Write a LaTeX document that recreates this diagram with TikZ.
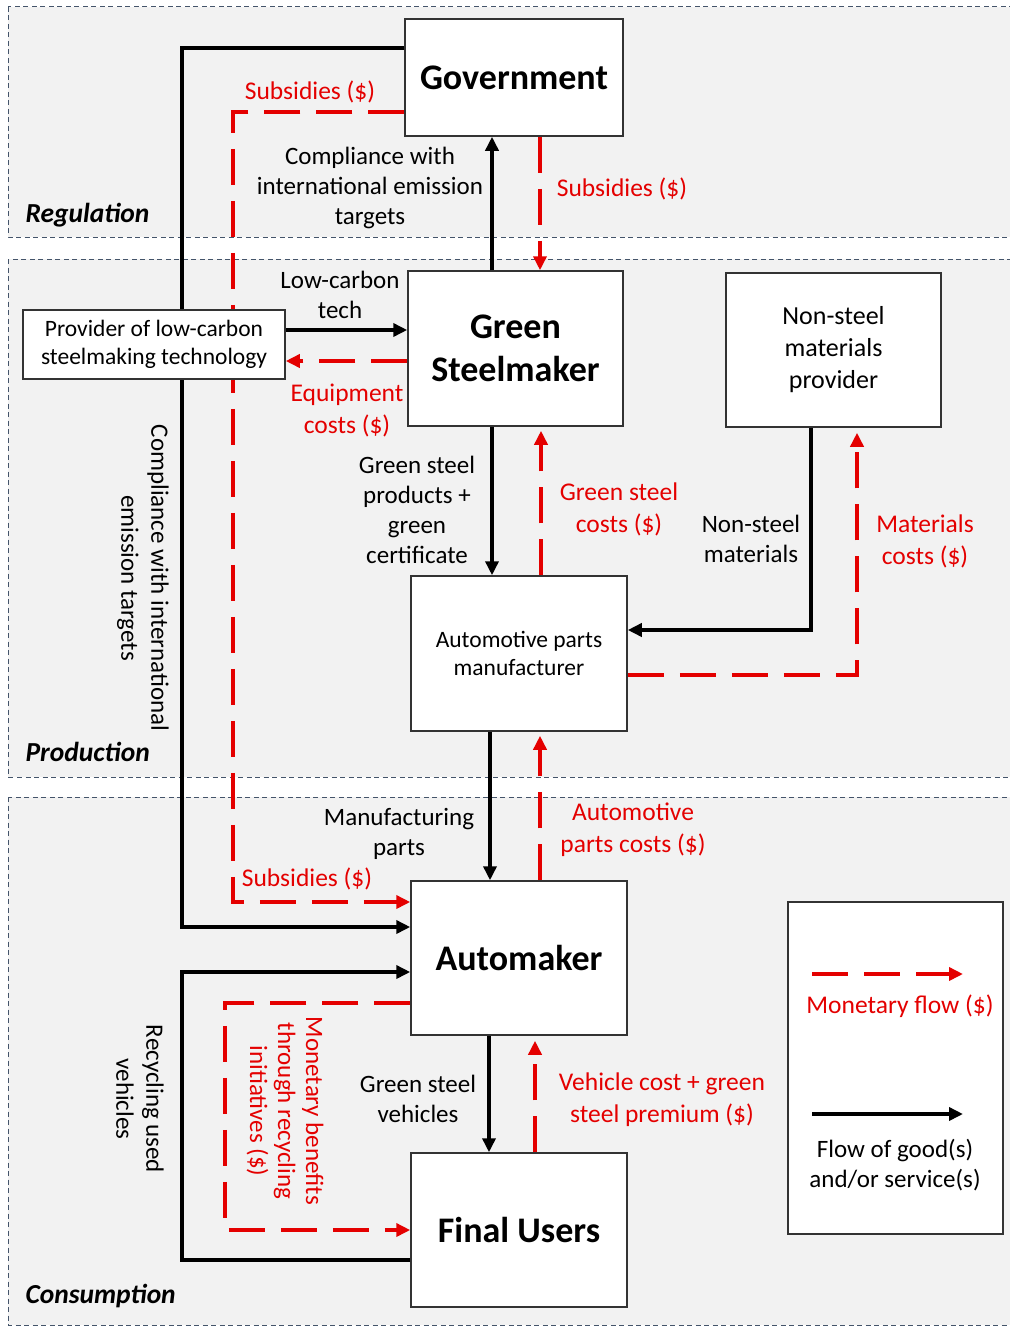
\documentclass[tikz,border=0pt]{standalone}
\usepackage{fontspec}
\setmainfont{Carlito}
\usetikzlibrary{arrows.meta}
\definecolor{flowred}{RGB}{228,0,0}
\definecolor{bandline}{RGB}{68,84,106}
\definecolor{bandfill}{RGB}{242,242,242}

\begin{document}
\begin{tikzpicture}[x=1pt,y=-1pt,>={Triangle[length=14pt,width=13pt]},
    band/.style={fill=bandfill,draw=bandline,line width=1pt,dash pattern=on 5pt off 3.5pt},
    actor/.style={draw=black!80,line width=1.5pt,fill=white,inner sep=0pt,align=center,
                  font=\fontsize{23.5}{28}\selectfont},
    bigactor/.style={actor,font=\bfseries\fontsize{36}{43}\selectfont},
    goods/.style={line width=3.5pt,->},
    money/.style={draw=flowred,line width=3.5pt,dash pattern=on 36pt off 16pt,->},
    lbl/.style={align=center,font=\fontsize{25}{30}\selectfont},
    mlbl/.style={align=center,text=flowred,font=\fontsize{25.5}{32}\selectfont},
    tier/.style={anchor=west,font=\bfseries\itshape\fontsize{27.5}{33}\selectfont}]
    \useasboundingbox (0,0) rectangle (1009,1327);

    % draw the three tiers
    \draw[band] (8,7) rectangle (1012,237);
    \draw[band] (8,259) rectangle (1012,777);
    \draw[band] (8,797) rectangle (1012,1325);
    \node[tier] (regulation) at (22,215) {Regulation};
    \node[tier] (production) at (22,752) {Production};
    \node[tier] (consumption) at (22,1296) {Consumption};

    % draw the actors
    \node[bigactor,minimum width=218pt,minimum height=117pt] (gov) at (514,77.5) {Government};
    \node[bigactor,minimum width=215pt,minimum height=155pt] (gsm) at (515.5,348.5) {Green\\Steelmaker};
    \node[actor,minimum width=215pt,minimum height=154pt,font=\fontsize{26}{32}\selectfont]
        (nsm) at (833.5,350) {Non-steel\\materials\\provider};
    \node[actor,minimum width=216pt,minimum height=155pt] (apm) at (519,653.5)
        {Automotive parts\\manufacturer};
    \node[bigactor,minimum width=216pt,minimum height=154pt] (auto) at (519,958) {Automaker};
    \node[bigactor,minimum width=216pt,minimum height=154pt] (users) at (519,1230) {Final Users};
    \node[actor,minimum width=215pt,minimum height=332pt] (legend) at (895.5,1068) {};

    % long lanes on the left (drawn before the provider box, which sits on top)
    \coordinate (lcomp) at (182,600);
    \coordinate (lsub) at (233,500);
    \coordinate (lrec) at (182,1100);
    \coordinate (lmon) at (225,1100);
    \draw[goods] ([yshift=29.5pt]gov.west) -| (lcomp) |- ([yshift=31pt]auto.west);
    \draw[money] ([yshift=-34.5pt]gov.west) -| (lsub) |- ([yshift=56pt]auto.west);
    \node[actor,minimum width=262pt,minimum height=69pt] (prov) at (154,344.5)
        {Provider of low-carbon\\steelmaking technology};

    % regulation flows
    \draw[goods] ([xshift=-23.5pt]gsm.north) -- ([xshift=-23.5pt]gsm.north |- gov.south);
    \draw[money] ([xshift=26pt]gov.south) -- ([xshift=26pt]gov.south |- gsm.north);

    % production flows
    \draw[goods] ([yshift=14.5pt]prov.east) -- ([yshift=14.5pt]prov.east -| gsm.west);
    \draw[money] ([yshift=-12.5pt]gsm.west) -- ([yshift=-12.5pt]gsm.west -| prov.east);
    \draw[goods] ([xshift=-23.5pt]gsm.south) -- ([xshift=-23.5pt]gsm.south |- apm.north);
    \draw[money,shorten >=4pt] ([xshift=22pt]apm.north) -- ([xshift=22pt]apm.north |- gsm.south);
    \draw[goods] ([xshift=-22.5pt]nsm.south) |- ([yshift=23.5pt]apm.east);
    \draw[money,shorten >=5pt] ([yshift=-21.5pt]apm.east) -| ([xshift=23.5pt]nsm.south);

    % consumption flows
    \draw[goods] ([xshift=-29pt]apm.south) -- ([xshift=-29pt]apm.south |- auto.north);
    \draw[money,shorten >=4pt] ([xshift=21pt]auto.north) -- ([xshift=21pt]auto.north |- apm.south);
    \draw[goods] ([xshift=-30pt]auto.south) -- ([xshift=-30pt]auto.south |- users.north);
    \draw[money,shorten >=5pt] ([xshift=16pt]users.north) -- ([xshift=16pt]users.north |- auto.south);
    \draw[goods] ([yshift=-30pt]users.west) -| (lrec) |- ([yshift=-14pt]auto.west);
    \draw[money] ([yshift=-45pt]auto.west) -| (lmon) |- (users.west);

    % labels of the flows
    \node[mlbl] (subtop) at (310,92) {Subsidies (\$)};
    \node[lbl] (complgov) at (370,188) {Compliance with\\international emission\\targets};
    \node[mlbl] (subgsm) at (622,189) {Subsidies (\$)};
    \node[lbl] (lctech) at (340,295) {Low-carbon\\tech};
    \node[mlbl] (equip) at (347,410) {Equipment\\costs (\$)};
    \node[lbl] (gsprod) at (417,510) {Green steel\\products +\\green\\certificate};
    \node[mlbl] (gscost) at (619,509) {Green steel\\costs (\$)};
    \node[lbl] (nsmat) at (751,539) {Non-steel\\materials};
    \node[mlbl] (matcost) at (925,541) {Materials\\costs (\$)};
    \node[lbl] (mfgparts) at (399,834) {Manufacturing\\parts};
    \node[mlbl] (partcost) at (633,830) {Automotive\\parts costs (\$)};
    \node[mlbl] (subauto) at (307,879) {Subsidies (\$)};
    \node[lbl] (gsveh) at (418,1099) {Green steel\\vehicles};
    \node[mlbl] (vehcost) at (662,1100) {Vehicle cost + green\\steel premium (\$)};
    \node[lbl,rotate=-90] (complall) at (143,578) {Compliance with international\\emission targets};
    \node[lbl,rotate=-90] (recyc) at (140,1099) {Recycling used\\vehicles};
    \node[mlbl,rotate=-90,font=\fontsize{25}{28}\selectfont] (benefit) at (285,1111)
        {Monetary benefits\\through recycling\\initiatives (\$)};

    % legend
    \coordinate (mfa) at (812,974);
    \coordinate (mfb) at (963,974);
    \coordinate (gfa) at (812,1114);
    \coordinate (gfb) at (963,1114);
    \draw[money] (mfa) -- (mfb);
    \draw[goods] (gfa) -- (gfb);
    \node[mlbl] (mflow) at (900,1006) {Monetary flow (\$)};
    \node[lbl] (gflow) at (895,1165) {Flow of good(s)\\and/or service(s)};
\end{tikzpicture}
\end{document}
